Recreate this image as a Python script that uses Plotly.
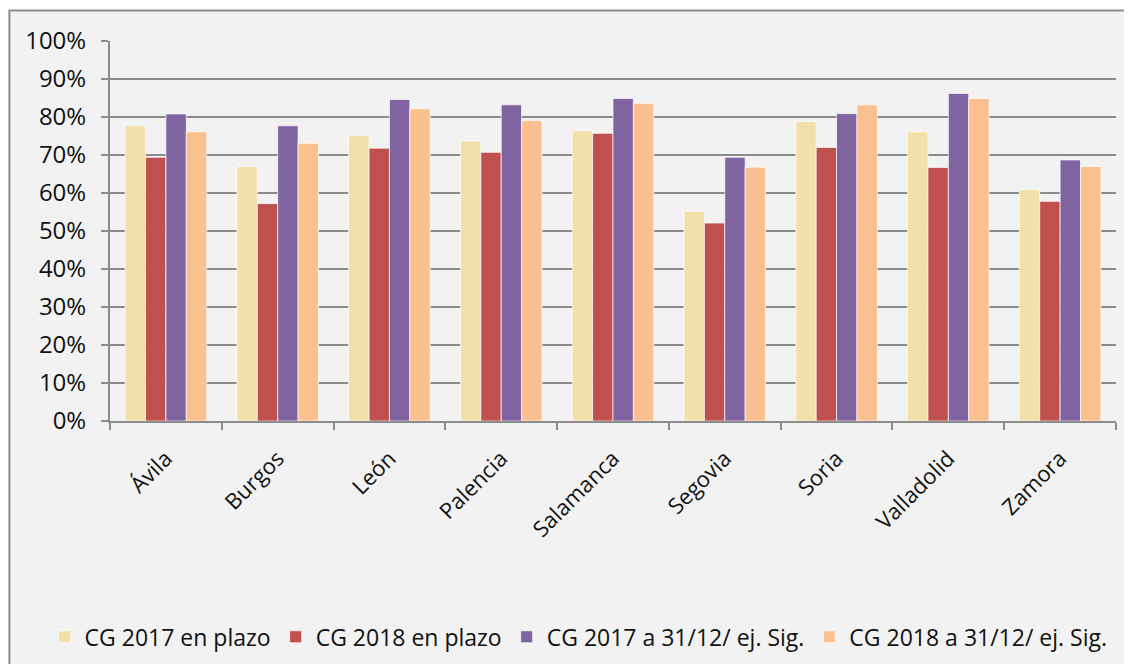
import plotly.graph_objects as go

# Provincias (eje X)
provincias = ["Ávila", "Burgos", "León", "Palencia", "Salamanca",
              "Segovia", "Soria", "Valladolid", "Zamora"]

# Porcentajes
cg2017_plazo = [77.7, 67.0, 75.1, 73.7, 76.4, 55.2, 78.8, 76.1, 60.9]
cg2018_plazo = [69.4, 57.2, 71.8, 70.7, 75.7, 52.1, 72.0, 66.7, 57.8]
cg2017_sig = [80.8, 77.7, 84.6, 83.2, 84.9, 69.4, 80.9, 86.2, 68.7]
cg2018_sig = [76.1, 73.1, 82.2, 79.1, 83.6, 66.8, 83.2, 84.9, 67.0]

series = [
    ("CG 2017 en plazo", cg2017_plazo, "#F2DFA9"),
    ("CG 2018 en plazo", cg2018_plazo, "#C0504D"),
    ("CG 2017 a 31/12/ ej. Sig.", cg2017_sig, "#8064A2"),
    ("CG 2018 a 31/12/ ej. Sig.", cg2018_sig, "#FAC090"),
]

y_ticks = list(range(0, 101, 10))

fig = go.Figure()

for name, vals, colour in series:
    fig.add_trace(
        go.Bar(
            x=provincias,
            y=vals,
            name=name,
            marker=dict(color=colour, line=dict(color="rgba(255,255,255,0.7)", width=1)),
        )
    )

# marco gris del gráfico
fig.add_shape(
    type="rect", xref="paper", yref="paper",
    x0=-0.1, x1=1.03, y0=-0.7, y1=1.08,
    fillcolor="#F2F2F2", line=dict(color="#8C8C8C", width=2),
    layer="below",
)

# the page body has an 8px margin, so the figure is 8px smaller than the window
fig.update_layout(
    barmode="group",
    bargap=0.27,
    bargroupgap=0,
    width=1124,
    height=656,
    paper_bgcolor="white",
    plot_bgcolor="white",
    font=dict(family="Open Sans, Liberation Sans, sans-serif", size=20, color="#111"),
    margin=dict(l=102, r=16, t=33, b=243, autoexpand=False),
    showlegend=True,
    # left-anchored at x<0 so the legend may use the left margin and stay on one row
    legend=dict(
        orientation="h",
        x=-0.065, xanchor="left",
        y=-0.568, yanchor="middle",
        font=dict(size=23),
        bgcolor="rgba(0,0,0,0)",
        itemwidth=30,
        traceorder="normal",
    ),
)

fig.update_xaxes(
    type="category",
    tickangle=-45,
    ticks="outside",
    tickson="boundaries",
    ticklen=7,
    tickcolor="#8C8C8C",
    tickwidth=2,
    showline=True,
    linecolor="#8C8C8C",
    linewidth=2,
    showgrid=False,
    tickfont=dict(size=22),
    ticklabelstandoff=14,
)
fig.update_yaxes(
    range=[0, 100],
    tickvals=y_ticks,
    ticktext=[f"{v}%" for v in y_ticks],
    ticks="outside",
    ticklen=7,
    tickcolor="#8C8C8C",
    tickwidth=2,
    showline=True,
    linecolor="#8C8C8C",
    linewidth=2,
    showgrid=True,
    gridcolor="#8A8A8A",
    gridwidth=2,
    zeroline=False,
    tickfont=dict(size=24),
    ticklabelstandoff=10,
)

fig.write_html("out.html")
